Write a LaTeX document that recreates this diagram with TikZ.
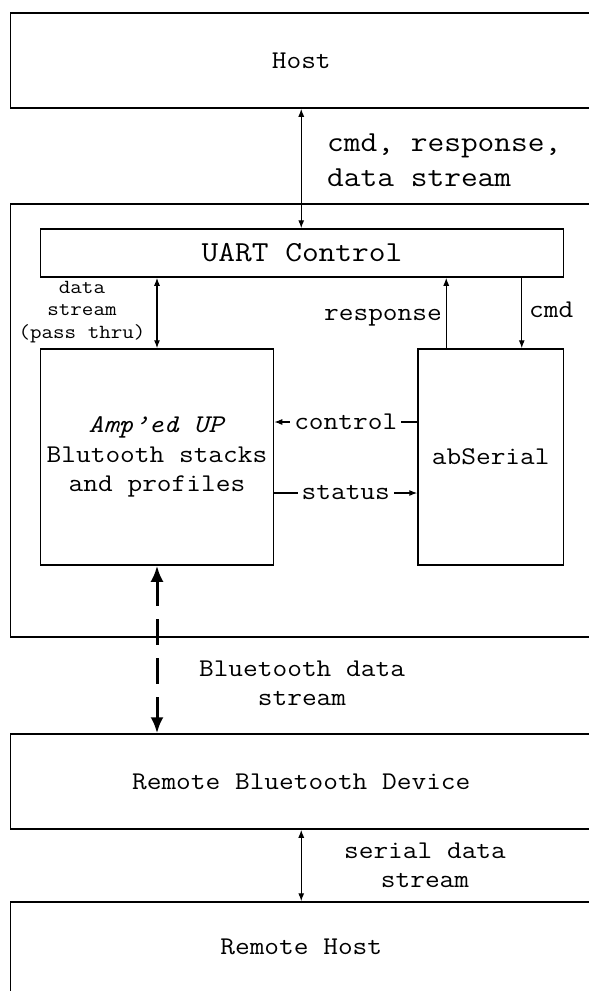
\documentclass[tikz,border=0pt]{standalone}
\usepackage{fontspec}
\setmainfont{Latin Modern Mono}[FakeStretch=1.12]
\usetikzlibrary{arrows.meta}
\tikzset{
  box/.style={draw,line width=1.5pt,inner sep=0pt,font=\fontsize{25.5}{29.5}\selectfont},
  txt/.style={inner sep=0pt,font=\fontsize{25.5}{29}\selectfont},
  bigtxt/.style={inner sep=0pt,font=\fontsize{29}{35}\selectfont},
  smalltxt/.style={inner sep=0pt,font=\fontsize{20}{22.5}\selectfont},
  tip/.tip={Latex[length=8pt,width=6pt]},
  link/.style={line width=1.1pt},
  btlink/.style={line width=3pt,dash pattern=on 26pt off 13pt,{Latex[length=16pt,width=13pt]}-{Latex[length=16pt,width=13pt]}}
}
\begin{document}
\begin{tikzpicture}[x=1pt,y=-1pt]
\useasboundingbox (0,0) rectangle (589,991);
\clip (0,0) rectangle (589,991);
\node[box,minimum width=581.5pt,minimum height=95pt] (host) at (301.25,60.5) {Host};
\node[box,minimum width=581.5pt,minimum height=433pt] (module) at (301.25,420.5) {};
\node[box,minimum width=523pt,minimum height=48pt,font=\fontsize{29}{34}\selectfont] (uart) at (302,253) {UART Control};
\node[box,minimum width=233pt,minimum height=216pt,align=center] (amped) at (157,457) {\textit{Amp’ed UP}\\Blutooth stacks\\and profiles};
\node[box,minimum width=145.5pt,minimum height=216pt] (abserial) at (490.75,457) {abSerial};
\node[box,minimum width=581.5pt,minimum height=95pt] (rbt) at (301.25,781.5) {Remote Bluetooth Device};
\node[box,minimum width=581.5pt,minimum height=90pt] (rhost) at (301.25,947) {Remote Host};
\path ([xshift=29pt]abserial.north west) coordinate (resp);
\path ([xshift=-42.5pt]abserial.north east) coordinate (cmd);
\draw[link,tip-tip] (host.south) -- (host.south |- uart.north);
\draw[link,tip-tip] (amped.north) -- (amped.north |- uart.south);
\draw[link,-tip] (resp) -- (resp |- uart.south);
\draw[link,tip-] (cmd) -- (cmd |- uart.south);
\draw[link,-tip] ([yshift=35pt]abserial.west) -- node[txt,fill=white,inner xsep=4pt] (ctl) {control} ([yshift=35pt]amped.east);
\draw[link,-tip] ([yshift=-36pt]amped.east) -- node[txt,fill=white,inner xsep=4pt] (sts) {status} ([yshift=-36pt]abserial.west);
\draw[btlink] (amped.south) -- (amped.south |- rbt.north);
\draw[link,tip-tip] (rbt.south) -- (rbt.south |- rhost.north);
\node[bigtxt,anchor=west,align=left] (hostlbl) at (327,160) {cmd, response,\\data stream};
\node[smalltxt,align=center] (passlbl) at (82,312) {data\\stream\\(pass thru)};
\node[txt,anchor=east] (resplbl) at (442,318) {response};
\node[txt,anchor=west] (cmdlbl) at (529,310) {cmd};
\node[txt,align=center] (btlbl) at (302,683) {Bluetooth data\\stream};
\node[txt,align=center] (serlbl) at (425,865) {serial data\\stream};
\end{tikzpicture}
\end{document}
